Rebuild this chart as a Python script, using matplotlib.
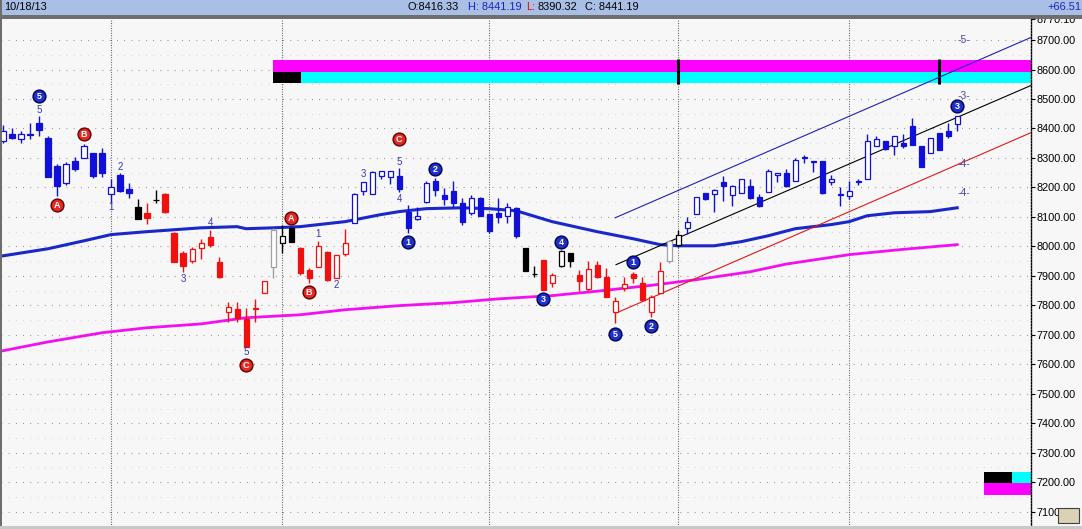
import matplotlib
matplotlib.use("Agg")
import matplotlib.pyplot as plt
from matplotlib.patches import Rectangle

plt.rcParams['font.family'] = ['Liberation Sans', 'DejaVu Sans']

# ---------------- data ----------------
opens = [8359, 8380, 8366, 8378, 8417, 8369, 8274, 8216, 8291, 8301,
         8318, 8318, 8179, 8243, 8196, 8135, 8114, 8159, 8179, 8047,
         7979, 7951, 7996, 8033, 7948, 7778, 7788, 7754, 7790, 7843,
         7931, 8013, 8063, 7996, 7921, 7931, 7982, 7894, 7975, 8080,
         8189, 8179, 8240, 8237, 8240, 8118, 8094, 8152, 8223, 8176,
         8189, 8148, 8114, 8165, 8111, 8114, 8104, 8131, 7996, 7908,
         7955, 7877, 7934, 7979, 7904, 7856, 7938, 7897, 7778, 7860,
         7907, 7877, 7778, 7843, 7951, 8006, 8063, 8111, 8182, 8179,
         8220, 8176, 8182, 8206, 8169, 8186, 8243, 8250, 8223, 8302,
         8289, 8291, 8220, 8177, 8172, 8221, 8230, 8342, 8356, 8342,
         8352, 8410, 8342, 8318, 8386, 8393, 8416.33]
highs = [8413, 8403, 8393, 8420, 8441, 8373, 8281, 8288, 8305, 8349,
         8318, 8335, 8227, 8250, 8216, 8162, 8148, 8193, 8182, 8050,
         7985, 7999, 8026, 8057, 7965, 7812, 7812, 7792, 7822, 7883,
         8063, 8074, 8067, 7999, 7928, 8019, 7985, 7972, 8060, 8182,
         8220, 8257, 8257, 8257, 8267, 8142, 8135, 8223, 8233, 8199,
         8223, 8165, 8176, 8169, 8111, 8165, 8148, 8135, 7996, 7934,
         7955, 7911, 7989, 7979, 7921, 7951, 7951, 7928, 7829, 7897,
         7914, 7897, 7836, 7948, 8023, 8057, 8101, 8169, 8182, 8196,
         8240, 8210, 8227, 8230, 8179, 8261, 8250, 8264, 8301, 8311,
         8291, 8291, 8243, 8203, 8223, 8230, 8383, 8376, 8359, 8376,
         8383, 8434, 8342, 8369, 8386, 8420, 8441.19]
lows = [8352, 8363, 8352, 8366, 8376, 8237, 8172, 8210, 8257, 8301,
        8233, 8237, 8148, 8186, 8165, 8094, 8077, 8148, 8114, 7948,
        7914, 7945, 7958, 7999, 7894, 7744, 7744, 7659, 7744, 7843,
        7894, 7979, 8016, 7904, 7877, 7931, 7883, 7894, 7968, 8080,
        8176, 8179, 8227, 8213, 8186, 8047, 8091, 8148, 8172, 8142,
        8135, 8074, 8108, 8104, 8047, 8080, 8080, 8030, 7917, 7897,
        7853, 7863, 7931, 7931, 7849, 7849, 7894, 7829, 7741, 7849,
        7877, 7819, 7761, 7843, 7945, 7999, 8043, 8111, 8159, 8118,
        8155, 8138, 8182, 8162, 8135, 8186, 8220, 8203, 8223, 8284,
        8254, 8179, 8210, 8138, 8162, 8210, 8230, 8342, 8328, 8311,
        8335, 8345, 8271, 8318, 8328, 8369, 8390.32]
closes = [8390, 8369, 8380, 8381, 8396, 8237, 8206, 8281, 8261, 8339,
          8240, 8250, 8203, 8189, 8182, 8094, 8097, 8158, 8118, 7948,
          7934, 7992, 8013, 8006, 7897, 7795, 7758, 7659, 7788, 7883,
          8057, 8036, 8016, 7911, 7894, 8002, 7887, 7972, 8013, 8179,
          8220, 8254, 8257, 8257, 8196, 8063, 8104, 8216, 8193, 8162,
          8148, 8084, 8165, 8104, 8053, 8101, 8135, 8036, 7917, 7907,
          7853, 7904, 7985, 7951, 7883, 7924, 7897, 7829, 7816, 7873,
          7894, 7819, 7829, 7917, 8019, 8040, 8084, 8169, 8162, 8193,
          8206, 8206, 8227, 8165, 8138, 8257, 8250, 8206, 8294, 8300,
          8287, 8182, 8230, 8175, 8189, 8219, 8359, 8366, 8332, 8373,
          8342, 8345, 8271, 8369, 8328, 8373, 8441.19]
bar_colors = ("bbbbbbbbbbbbbbb" "krkrrrrrrrrrrrr" "gkkrrrrrrbbbbbb"
              "bbbbbbbbbbbbbkk" "rrkkrrrrrrrrrrg" "kbbbbbbbbbbbbbb"
              "bbbbbbbbbbbbbbb" "bb")

blue_ma_idx = [0, 5, 9, 12, 16, 22, 26, 27, 30, 33, 38, 42, 44, 47, 51, 54,
               57, 61, 66, 70, 73, 75, 79, 82, 85, 88, 92, 94, 96, 99, 103, 106]
blue_ma_val = [7968, 7992, 8019, 8040, 8050, 8063, 8067, 8060, 8063, 8067,
               8084, 8108, 8118, 8128, 8131, 8128, 8121, 8084, 8050, 8026,
               8006, 8002, 8002, 8016, 8036, 8060, 8074, 8084, 8104, 8114,
               8118, 8131]
mag_ma_idx = [0, 5, 11, 16, 22, 27, 33, 38, 44, 50, 55, 61, 66, 72, 77, 83,
              87, 94, 100, 106]
mag_ma_val = [7646, 7676, 7707, 7724, 7737, 7758, 7768, 7785, 7799, 7809,
              7822, 7833, 7848, 7868, 7887, 7914, 7940, 7972, 7990, 8006]

# trend lines: (start index, start value, end index, end value)
trend_blue = (68.0, 8097, 114.2, 8709)
trend_black = (68.1, 7938, 114.2, 8546)
trend_red = (68.2, 7775, 114.2, 8386)

# circle markers (index, value, label, kind)
circle_idx = [4, 6, 9, 44, 27, 32, 34, 45, 48, 60, 62, 70, 68, 72, 106]
circle_val = [8509, 8140, 8380, 8366, 7598, 8098, 7846, 8016, 8264, 7822,
              8016, 7948, 7704, 7731, 8478]
circle_txt = ["5", "A", "B", "C", "C", "A", "B", "1", "2", "3", "4", "1",
              "5", "2", "3"]
circle_kind = ["b", "r", "r", "r", "r", "r", "r", "b", "b", "b", "b", "b",
               "b", "b", "b"]

# small count labels
count_idx = [4, 13, 12, 20, 23, 27, 35, 37, 40, 44, 44]
count_val = [8464, 8271, 8132, 7890, 8080, 7642, 8043, 7870, 8244, 8288, 8162]
count_txt = ["5", "2", "1", "3", "4", "5", "1", "2", "3", "5", "4"]

# right projection labels
proj_idx = [106.7, 106.7, 106.7, 106.7]
proj_val = [8699, 8509, 8281, 8182]
proj_txt = ["-5-", "-3-", "-4-", "-4-"]

month_sep_idx = [12, 31, 54, 75, 94]
yticks = [7100, 7200, 7300, 7400, 7500, 7600, 7700, 7800, 7900, 8000,
          8100, 8200, 8300, 8400, 8500, 8600, 8700, 8770.10]

# ---------------- figure ----------------
W, H = 1082, 529
BG = '#F7F7F7'
fig = plt.figure(figsize=(W / 100, H / 100), dpi=100, facecolor=BG)
ax = fig.add_axes([1 / W, 2 / H, 1030 / W, 508 / H])
ax.set_facecolor(BG)
ax.set_xlim(-0.22, 114.2)
ax.set_ylim(7048, 8771.5)

# grid
for v in yticks[:-1]:
    ax.axhline(v, color='#7a7a7a', lw=0.8, dashes=(0.7, 5.8), zorder=0)
for v in range(7150, 8750, 100):
    ax.axhline(v, color='#cfcfcf', lw=0.8, dashes=(0.7, 5.8), zorder=0)
for m in month_sep_idx:
    ax.axvline(m, color='#505050', lw=0.8, dashes=(0.8, 1.4), zorder=0)

# top bars
ax.add_patch(Rectangle((30, 8593), 84.2, 40, facecolor='#FF00FF', edgecolor='none', zorder=1))
ax.add_patch(Rectangle((30, 8553), 3.1, 40, facecolor='black', edgecolor='none', zorder=1))
ax.add_patch(Rectangle((33.1, 8553), 81.1, 40, facecolor='#00FFFF', edgecolor='none', zorder=1))
for m in [75, 104]:
    ax.plot([m, m], [8550, 8636], color='black', lw=2.2, zorder=2, solid_capstyle='butt')

# bottom-right boxes
ax.add_patch(Rectangle((109.0, 7197), 3.1, 38, facecolor='black', edgecolor='none', zorder=1))
ax.add_patch(Rectangle((112.1, 7197), 2.2, 38, facecolor='#00FFFF', edgecolor='none', zorder=1))
ax.add_patch(Rectangle((109.0, 7157), 5.3, 40, facecolor='#FF00FF', edgecolor='none', zorder=1))

# moving averages
ax.plot(mag_ma_idx, mag_ma_val, color='#F010F0', lw=2.0, zorder=3)
ax.plot(blue_ma_idx, blue_ma_val, color='#1A28C8', lw=2.2, zorder=3)

# trend lines
for (x0, y0, x1, y1), col in [(trend_blue, '#2020B8'), (trend_black, 'black'),
                              (trend_red, '#E01818')]:
    ax.plot([x0, x1], [y0, y1], color=col, lw=0.8, zorder=3)

# candles
cmap = {'b': '#1010D8', 'r': '#F01010', 'k': '#000000', 'g': '#A0A0A0'}
w = 0.56
for i, (o, h, l, c, k) in enumerate(zip(opens, highs, lows, closes, bar_colors)):
    ec = cmap[k]
    ax.plot([i, i], [l, h], color=ec, lw=1.0, zorder=4, solid_capstyle='butt')
    hollow = c > o
    fc = 'white' if hollow else ec
    bot = min(o, c)
    ht = max(abs(c - o), 0.5)
    ax.add_patch(Rectangle((i - w / 2, bot), w, ht, facecolor=fc, edgecolor=ec,
                           lw=0.9, zorder=5))

# circles
for x, y, t, k in zip(circle_idx, circle_val, circle_txt, circle_kind):
    if k == 'b':
        fc, ec = '#1E30C8', '#000050'
    else:
        fc, ec = '#E42A22', '#600000'
    ax.scatter([x], [y], s=85, c=fc, edgecolors=ec, linewidths=1.0, zorder=6)
    ax.text(x, y - 2, t, color='white', fontsize=6.5, fontweight='bold',
            ha='center', va='center', zorder=7)

for x, y, t in zip(count_idx, count_val, count_txt):
    ax.text(x, y, t, color='#3838B0', fontsize=7, ha='center', va='center', zorder=7)

for x, y, t in zip(proj_idx, proj_val, proj_txt):
    ax.text(x, y, t, color='#4848A0', fontsize=7.5, ha='center', va='center', zorder=7)

# axes styling
for s in ['top', 'left', 'bottom']:
    ax.spines[s].set_visible(False)
ax.spines['right'].set_color('black')
ax.spines['right'].set_linewidth(1.0)
ax.spines['right'].set_linestyle((0, (1, 1.2)))
ax.set_xticks([])
ax.yaxis.tick_right()
ax.set_yticks(yticks)
ax.set_yticklabels([f'{t:.2f}' for t in yticks])
ax.tick_params(axis='y', length=3, width=0.8, pad=1, labelsize=7.8, colors='black')

# header bar and frame
def px_rect(x, y, w_, h_, **kw):
    fig.patches.append(Rectangle((x / W, 1 - (y + h_) / H), w_ / W, h_ / H,
                                 transform=fig.transFigure, figure=fig, **kw))

px_rect(0, 0, W, 15, facecolor='#A9BFE6', edgecolor='none', zorder=10)
px_rect(0, 15, W, 3.5, facecolor='#6E6E6E', edgecolor='none', zorder=10)
px_rect(0, 0, 1.5, H, facecolor='#6E6E6E', edgecolor='none', zorder=10)
px_rect(0, 526, W, 3, facecolor='#C8C8C8', edgecolor='none', zorder=10)
px_rect(1058, 508, 21, 15, facecolor='#D9D2B4', edgecolor='#404040', lw=0.8, zorder=10)

ty = 1 - 7.5 / H
hdr = [(4, "10/18/13", 'black'), (408, "O:8416.33", 'black'),
       (468, "H: 8441.19", '#2020C0'), (526, "L:", '#E01010'),
       (538, "8390.32", 'black'), (585, "C: 8441.19", 'black'),
       (1047, "+66.51", '#2020C0')]
for x, t, col in hdr:
    fig.text(x / W, ty, t, color=col, fontsize=7.9, ha='left', va='center', zorder=11)

fig.savefig('out.png', dpi=100, facecolor=BG)
